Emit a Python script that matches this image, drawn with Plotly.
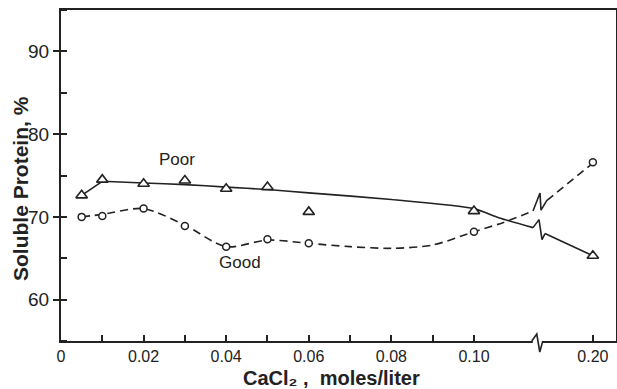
import plotly.graph_objects as go

# ---- data ----
conc = [0.005, 0.01, 0.02, 0.03, 0.04, 0.05, 0.06, 0.10, 0.20]
poor_vals = [72.6, 74.5, 74.0, 74.4, 73.4, 73.6, 70.6, 70.7, 65.3]
good_vals = [70.0, 70.1, 71.0, 68.9, 66.4, 67.3, 66.8, 68.2, 76.6]

# fitted curves (left of the axis break, right of the axis break)
poor_curve_left_c = [0.005, 0.01, 0.02, 0.03, 0.04, 0.05, 0.06, 0.08, 0.10, 0.106, 0.1143]
poor_curve_left_v = [72.6, 74.3, 74.1, 73.9, 73.6, 73.3, 72.9, 72.1, 71.0, 69.9, 68.7]
poor_curve_right_c = [0.1884, 0.194, 0.20]
poor_curve_right_v = [68.0, 66.7, 65.3]

good_curve_left_c = [0.005, 0.01, 0.02, 0.03, 0.04, 0.05, 0.06, 0.07, 0.08, 0.09, 0.10, 0.107, 0.1143]
good_curve_left_v = [70.0, 70.3, 71.0, 69.0, 66.4, 67.2, 66.8, 66.4, 66.2, 66.6, 68.2, 69.3, 70.7]
good_curve_right_c = [0.1889, 0.20]
good_curve_right_v = [72.0, 76.5]

x_tick_conc = [0, 0.02, 0.04, 0.06, 0.08, 0.10, 0.20]
x_tick_labels = ["0", "0.02", "0.04", "0.06", "0.08", "0.10", "0.20"]
x_minor_conc = [0.01, 0.03, 0.05, 0.07, 0.09]

# ---- broken x scale ----
SHIFT = 0.0712          # concentrations beyond the break are shifted left
BREAK_POS = 0.1157
X_MAX = 0.1344
Y_MIN, Y_MAX = 55, 95

W, H = 617, 389
ML, MR, MT, MB = 61, 1, 10, 48
PW, PH = W - ML - MR, H - MT - MB
PX_X = PW / X_MAX
PX_Y = PH / (Y_MAX - Y_MIN)


def xpos(c):
    return c if c < 0.15 else c - SHIFT


INK = "#222222"
FONT = "Liberation Sans, Arial, sans-serif"

fig = go.Figure()


def curve(cs, vs, dash, smooth=0.6):
    fig.add_trace(go.Scatter(
        x=[xpos(c) for c in cs], y=vs, mode="lines",
        line=dict(color=INK, width=1.6, dash=dash, shape="spline", smoothing=smooth),
        hoverinfo="skip", showlegend=False))


curve(poor_curve_left_c[:2], poor_curve_left_v[:2], "solid")
curve(poor_curve_left_c[1:], poor_curve_left_v[1:], "solid")
curve(poor_curve_right_c, poor_curve_right_v, "solid")
curve(good_curve_left_c, good_curve_left_v, "8px,5px", 0.8)
curve(good_curve_right_c, good_curve_right_v, "8px,5px")


# break glyphs on the curves (pixel offsets from the end of the left segment)
def zigzag(x0, y0, offs, dash):
    xs = [xpos(x0) + dx / PX_X for dx, dy in offs]
    ys = [y0 - dy / PX_Y for dx, dy in offs]
    fig.add_trace(go.Scatter(x=xs, y=ys, mode="lines",
                             line=dict(color=INK, width=1.6, dash=dash),
                             hoverinfo="skip", showlegend=False))


zigzag(poor_curve_left_c[-1], poor_curve_left_v[-1], [(0, 0), (6, -8), (9, 12), (12, 6)], "solid")
zigzag(good_curve_left_c[-1], good_curve_left_v[-1], [(0, 0), (7, -18), (8, -1), (14, -11)], "solid")

fig.add_trace(go.Scatter(
    x=[xpos(c) for c in conc], y=poor_vals, mode="markers", name="Poor",
    marker=dict(symbol="triangle-up", size=10, color="white",
                line=dict(color=INK, width=1.6)),
    showlegend=False))
fig.add_trace(go.Scatter(
    x=[xpos(c) for c in conc], y=good_vals, mode="markers", name="Good",
    marker=dict(symbol="circle", size=7, color="white",
                line=dict(color=INK, width=1.5)),
    showlegend=False))

# axis break glyph on the x axis (paper coordinates)
bx = BREAK_POS / X_MAX


def pp(dx, dy):
    return f"{bx + dx / PW:.5f},{-dy / PH:.5f}"


fig.add_shape(type="line", xref="paper", yref="paper",
              x0=bx - 6 / PW, x1=bx + 4 / PW, y0=0, y1=0,
              line=dict(color="white", width=4))
fig.add_shape(type="path", xref="paper", yref="paper",
              path=f"M{pp(-7, 0)} L{pp(-2, -7)} L{pp(1, 11)} L{pp(4, 0)}",
              line=dict(color=INK, width=1.6))

fig.add_annotation(x=0.0281, y=76.9, text="Poor", showarrow=False,
                   font=dict(family=FONT, size=17, color=INK))
fig.add_annotation(x=0.0434, y=64.5, text="Good", showarrow=False,
                   font=dict(family=FONT, size=17, color=INK))

# axis titles
fig.add_annotation(xref="paper", yref="paper", x=(331 - ML) / PW, y=-(378 - (MT + PH)) / PH,
                   text="<b>CaCl\u2082 ,  moles/liter</b>", showarrow=False,
                   font=dict(family=FONT, size=20, color=INK),
                   xanchor="center", yanchor="middle")
fig.add_annotation(xref="paper", yref="paper", x=(20 - ML) / PW, y=(MT + PH - 189) / PH,
                   text="<b>Soluble Protein, %</b>", textangle=-90, showarrow=False,
                   font=dict(family=FONT, size=21, color=INK),
                   xanchor="center", yanchor="middle")

fig.update_layout(
    width=W, height=H,
    margin=dict(l=ML, r=MR, t=MT, b=MB, autoexpand=False),
    paper_bgcolor="white", plot_bgcolor="white",
    font=dict(family=FONT, color=INK),
    showlegend=False,
    xaxis=dict(range=[0, X_MAX], showgrid=False, zeroline=False,
               showline=True, linecolor=INK, linewidth=2, mirror=True,
               tickmode="array", tickvals=[xpos(c) for c in x_tick_conc],
               ticktext=x_tick_labels, ticks="inside", ticklen=6,
               tickcolor=INK, tickwidth=1.5,
               tickfont=dict(family=FONT, size=16, color=INK),
               minor=dict(tickmode="array", tickvals=x_minor_conc,
                          ticks="inside", ticklen=6, tickcolor=INK, tickwidth=1.5)),
    yaxis=dict(range=[Y_MIN, Y_MAX], showgrid=False, zeroline=False,
               showline=True, linecolor=INK, linewidth=2, mirror=True,
               tickmode="linear", tick0=0, dtick=10,
               ticks="outside", ticklen=6, tickcolor=INK, tickwidth=1.5,
               tickfont=dict(family=FONT, size=19, color=INK),
               minor=dict(tick0=0, dtick=5, ticks="inside", ticklen=6,
                          tickcolor=INK, tickwidth=1.5)),
)

fig.write_html("out.html", config={"displayModeBar": False},
               post_script="document.body.style.margin='0px';")
